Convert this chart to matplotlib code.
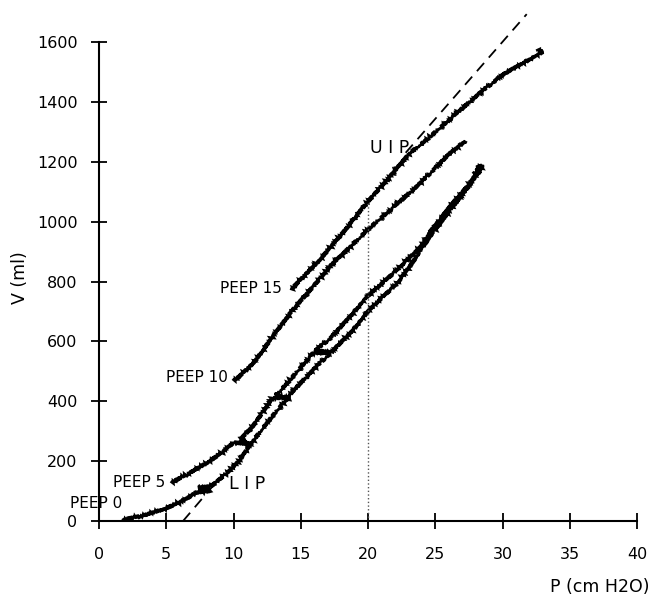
import matplotlib
matplotlib.use("Agg")
import matplotlib.pyplot as plt

# ---- data ----
peep0_P = [1.8, 3.3, 5.0, 6.3, 7.2, 8.3, 7.4, 8.4, 9.5, 10.5, 11.0, 12.2, 13.7, 14.7,
           15.9, 17.2, 18.4, 18.9, 20.1, 20.9, 22.2, 23.6, 24.6, 26.3, 27.6, 28.5]
peep0_V = [5, 18, 43, 68, 95, 103, 110, 118, 160, 204, 240, 312, 394, 448,
           504, 561, 615, 640, 705, 740, 795, 882, 950, 1050, 1125, 1185]

peep5_P = [5.4, 6.5, 8.0, 9.2, 10.0, 11.2, 10.5, 11.5, 12.9, 14.2, 13.1, 14.2, 15.9,
           17.2, 16.1, 17.2, 18.4, 19.9, 21.9, 23.9, 24.6, 26.3, 27.6, 28.5, 28.0, 28.4, 27.9]
peep5_V = [130, 154, 194, 230, 262, 258, 272, 320, 411, 411, 418, 471, 561,
           563, 570, 610, 670, 748, 828, 915, 965, 1062, 1129, 1189, 1178, 1168, 1158]

peep10_P = [10.0, 10.3, 11.5, 12.9, 14.4, 15.9, 17.4, 17.9, 19.9, 21.9, 23.9, 26.1, 27.2]
peep10_V = [472, 478, 528, 615, 705, 782, 862, 882, 970, 1049, 1129, 1229, 1269]

peep15_P = [14.3, 16.2, 17.9, 19.9, 21.6, 23.1, 24.6, 26.6, 28.3, 30.0, 31.5, 33.0, 32.6]
peep15_V = [775, 862, 950, 1062, 1149, 1229, 1283, 1363, 1429, 1490, 1530, 1567, 1574]

lower_tangent_P = [6.25, 9.0]
lower_tangent_V = [0, 145]
upper_tangent_P = [22.8, 31.8]
upper_tangent_V = [1230, 1693]

uip_P = 20.0
uip_V = 1070

x_ticks = [0, 5, 10, 15, 20, 25, 30, 35, 40]
y_ticks = [0, 200, 400, 600, 800, 1000, 1200, 1400, 1600]

labels = [("PEEP 15", 282, 775), ("PEEP 10", 228, 478), ("PEEP 5", 165, 130), ("PEEP 0", 122, 58)]

# ---- figure ----
fig = plt.figure(figsize=(6.53, 5.97), dpi=100)
ax = fig.add_axes([99/653, 1 - 521/597, 538/653, 479/597])
ax.set_xlim(0, 40)
ax.set_ylim(0, 1600)
for s in ["top", "right"]:
    ax.spines[s].set_visible(False)
for s in ["left", "bottom"]:
    ax.spines[s].set_linewidth(1.5)
ax.set_xticks(x_ticks)
ax.set_yticks(y_ticks)
ax.tick_params(direction="inout", length=11, width=1.3, labelsize=11.5)
ax.tick_params(axis="y", pad=10)
ax.tick_params(axis="x", pad=13)

for P, V in [(peep0_P, peep0_V), (peep5_P, peep5_V), (peep10_P, peep10_V), (peep15_P, peep15_V)]:
    ln, = ax.plot(P, V, color="black", lw=1.9, solid_joinstyle="miter")
    ln.set_sketch_params(2.0, 2.5, 1.5)

ax.plot(lower_tangent_P, lower_tangent_V, color="black", lw=1.3, ls=(0, (6, 4)), clip_on=False)
ax.plot(upper_tangent_P, upper_tangent_V, color="black", lw=1.3, ls=(0, (6, 4)), clip_on=False)
ax.plot([uip_P, uip_P], [0, uip_V], color="#555555", lw=1.0, ls=":")


def px2P(px):
    return (px - 99) / 13.45


for txt, xr, v in labels:
    ax.text(px2P(xr), v, txt, ha="right", va="center", fontsize=11)

ax.text(px2P(247), 125, "L I P", ha="center", va="center", fontsize=12.5)
ax.text(px2P(390), 1245, "U I P", ha="center", va="center", fontsize=12.5)

fig.text(650/653, 1 - 587/597, "P (cm H2O)", ha="right", va="center", fontsize=12.5)
fig.text(20/653, 1 - 278/597, "V (ml)", ha="center", va="center", rotation=90, fontsize=12.5)

fig.savefig("out.png", dpi=100, facecolor="white")
